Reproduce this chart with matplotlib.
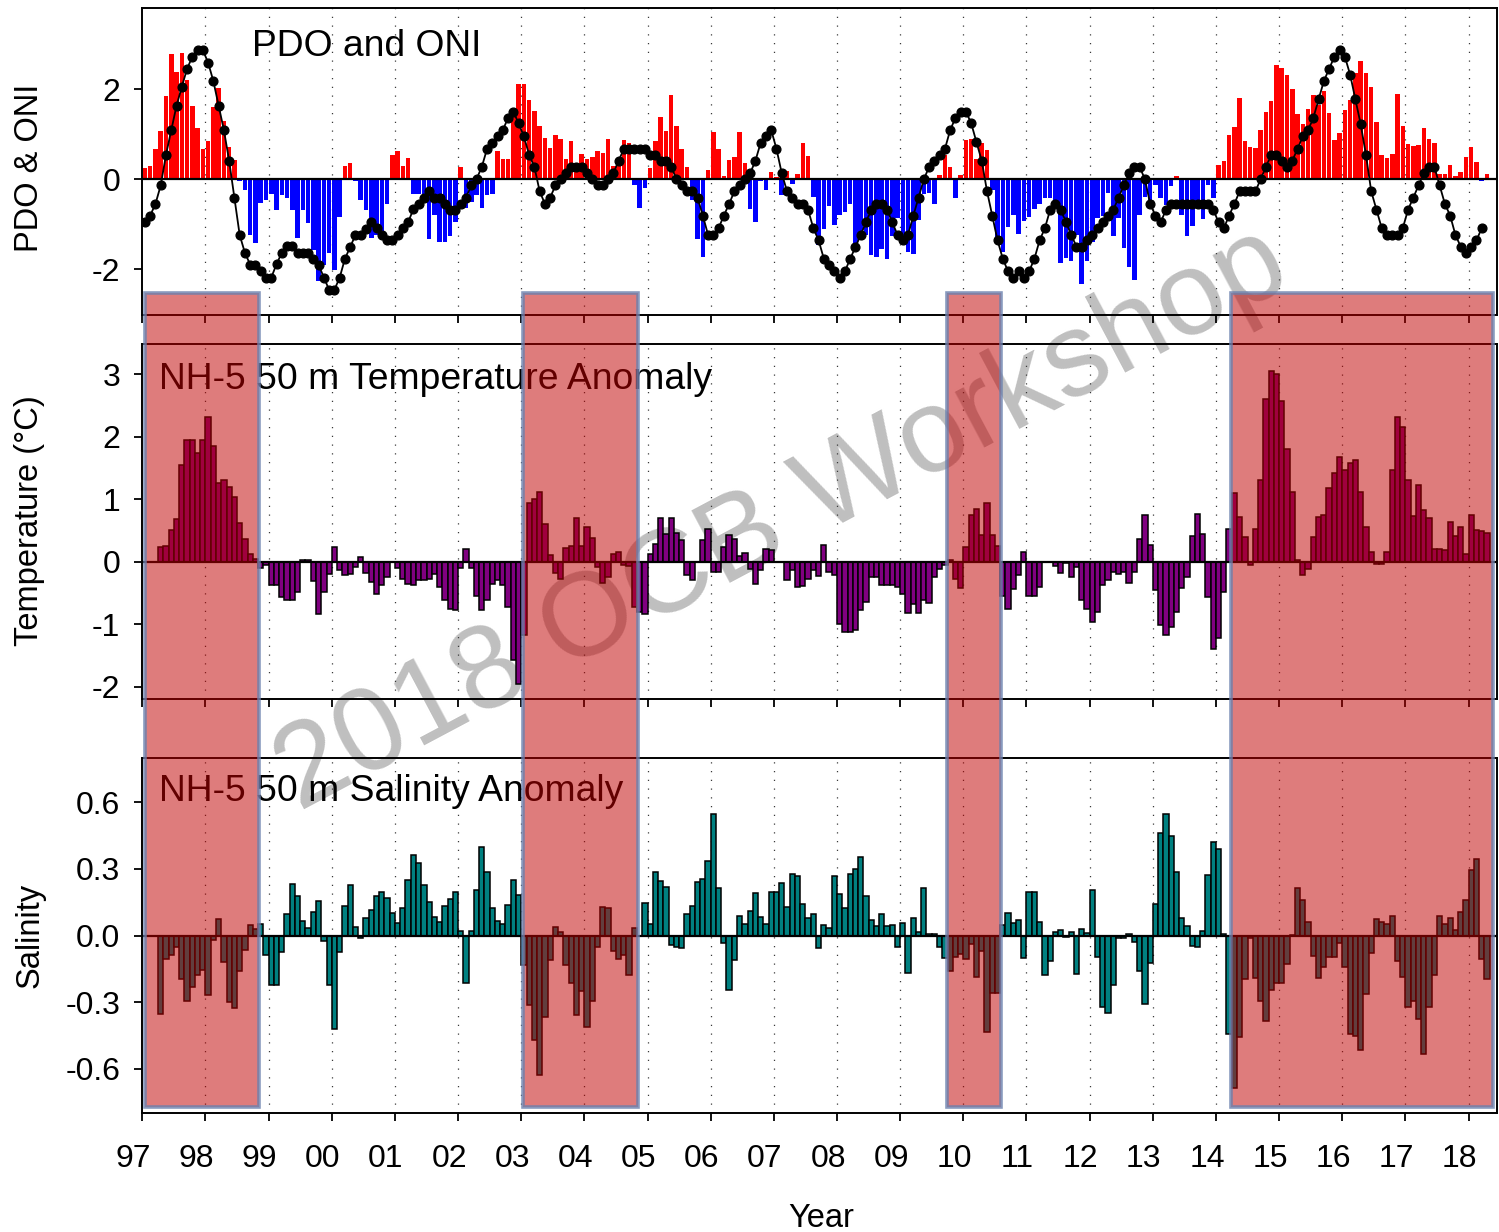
import numpy as np
import matplotlib
matplotlib.use("Agg")
import matplotlib.pyplot as plt
from matplotlib.patches import Rectangle
from matplotlib.transforms import blended_transform_factory, ScaledTranslation

plt.rcParams['font.family'] = ['Liberation Sans', 'DejaVu Sans']
plt.rcParams['axes.unicode_minus'] = False

# ---------------- data (monthly, month index 0 = Jan 1997) ----------------
oni_start = 0
oni = [-0.96, -0.81, -0.55, -0.14, 0.54, 1.09, 1.63, 2.05, 2.45, 2.72, 2.87, 2.87,
       2.59, 2.18, 1.63, 1.09, 0.41, -0.41, -1.24, -1.64, -1.90, -1.90, -2.05, -2.19,
       -2.19, -1.89, -1.64, -1.49, -1.49, -1.64, -1.64, -1.64, -1.77, -1.90, -2.19, -2.46,
       -2.46, -2.19, -1.77, -1.51, -1.24, -1.24, -1.10, -0.96, -1.09, -1.24, -1.36, -1.36,
       -1.24, -1.09, -0.96, -0.67, -0.55, -0.41, -0.27, -0.41, -0.41, -0.55, -0.68, -0.68,
       -0.55, -0.41, -0.14, 0.0, 0.27, 0.67, 0.81, 0.95, 1.09, 1.36, 1.50, 1.24,
       0.95, 0.54, 0.27, -0.27, -0.55, -0.41, -0.14, 0.0, 0.13, 0.27, 0.27, 0.27,
       0.13, 0.0, -0.14, -0.14, 0.0, 0.13, 0.41, 0.67, 0.67, 0.67, 0.67, 0.67,
       0.54, 0.54, 0.41, 0.41, 0.27, 0.0, -0.14, -0.27, -0.27, -0.41, -0.81, -1.24,
       -1.24, -1.09, -0.81, -0.55, -0.27, -0.14, 0.0, 0.13, 0.41, 0.81, 0.95, 1.09,
       0.67, 0.13, -0.27, -0.41, -0.55, -0.55, -0.68, -1.09, -1.36, -1.77, -1.90, -2.05,
       -2.19, -2.05, -1.77, -1.51, -1.24, -0.96, -0.68, -0.55, -0.55, -0.68, -0.96, -1.24,
       -1.36, -1.24, -0.81, -0.41, 0.0, 0.27, 0.41, 0.54, 0.67, 1.09, 1.36, 1.50,
       1.50, 1.24, 0.82, 0.41, -0.27, -0.81, -1.36, -1.77, -2.05, -2.19, -2.05, -2.19,
       -2.05, -1.77, -1.36, -1.09, -0.68, -0.55, -0.68, -0.96, -1.24, -1.50, -1.50, -1.36,
       -1.24, -1.09, -0.96, -0.81, -0.68, -0.41, -0.14, 0.13, 0.27, 0.27, 0.0, -0.55,
       -0.81, -0.96, -0.68, -0.55, -0.55, -0.55, -0.55, -0.55, -0.55, -0.55, -0.55, -0.68,
       -0.96, -1.09, -0.81, -0.55, -0.27, -0.27, -0.27, -0.27, 0.0, 0.27, 0.54, 0.54,
       0.41, 0.27, 0.41, 0.67, 0.95, 1.09, 1.36, 1.77, 2.18, 2.45, 2.72, 2.87,
       2.72, 2.32, 1.77, 1.22, 0.54, -0.27, -0.68, -1.09, -1.24, -1.24, -1.24, -1.09,
       -0.68, -0.41, -0.14, 0.13, 0.27, 0.27, -0.14, -0.55, -0.81, -1.24, -1.50, -1.64,
       -1.50, -1.36, -1.09]

pdo_start = 0
pdo = [0.24, 0.30, 0.67, 1.07, 1.85, 2.78, 2.37, 2.81, 2.21, 1.63, 1.14, 0.67,
       0.85, 1.61, 2.02, 1.29, 0.71, 0.43, -0.05, -0.24, -1.24, -1.42, -0.53, -0.46,
       -0.33, -0.68, -0.36, -0.42, -0.68, -1.31, -0.68, -0.98, -1.57, -2.26, -1.90, -1.65,
       -2.02, -0.85, 0.30, 0.36, -0.05, -0.46, -0.68, -1.31, -1.24, -1.15, -0.55, 0.54,
       0.62, 0.30, 0.46, -0.33, -0.33, -0.50, -1.34, -0.80, -1.40, -1.40, -1.27, -0.95,
       0.28, -0.65, -0.50, -0.35, -0.65, -0.35, -0.33, 0.62, 0.45, 0.44, 1.40, 2.11,
       2.11, 1.76, 1.52, 1.19, 0.91, 0.69, 0.97, 0.90, 0.45, 0.85, 0.36, 0.56,
       0.45, 0.50, 0.63, 0.59, 0.90, 0.30, 0.30, 0.87, 0.80, -0.12, -0.64, -0.19,
       0.24, 0.84, 1.38, 1.06, 1.87, 1.19, 0.67, 0.27, -0.46, -1.33, -1.73, 0.21,
       1.05, 0.67, 0.07, 0.42, 0.50, 1.05, 0.36, -0.67, -0.96, -0.05, -0.24, 0.16,
       0.04, -0.35, 0.19, -0.11, 0.11, 0.81, 0.51, -0.39, -1.46, -1.10, -0.60, -1.01,
       -0.79, -0.73, -0.56, -1.44, -1.36, -1.24, -1.68, -1.73, -1.56, -1.77, -1.27, -0.87,
       -1.41, -1.61, -1.67, -0.90, -0.33, -0.31, -0.55, 0.10, 0.54, 0.28, -0.42, 0.10,
       0.87, 0.90, 0.45, 0.80, 0.64, -0.24, -1.29, -1.62, -1.07, -0.79, -1.22, -0.94,
       -0.84, -0.66, -0.55, -0.42, -0.41, -0.56, -1.87, -1.76, -1.81, -1.24, -2.33, -1.81,
       -1.40, -0.87, -0.81, -0.30, -1.26, -0.87, -1.53, -1.96, -2.24, -0.79, -0.39, -0.52,
       -0.14, -0.42, -0.57, -0.16, 0.08, -0.79, -1.26, -1.05, -0.56, -0.88, -0.13, -0.42,
       0.32, 0.41, 0.99, 1.15, 1.81, 0.84, 0.71, 0.69, 1.10, 1.50, 1.74, 2.53,
       2.48, 2.32, 2.01, 1.45, 1.22, 1.56, 1.86, 1.64, 1.96, 1.48, 0.87, 1.02,
       1.54, 1.76, 2.36, 2.63, 2.36, 2.04, 1.26, 0.53, 0.47, 0.56, 1.89, 1.19,
       0.78, 0.73, 0.75, 1.13, 0.89, 0.80, 0.11, 0.11, 0.32, 0.06, 0.16, 0.50,
       0.71, 0.38, -0.05, 0.11]

temp_start = 3
temp = [0.24, 0.25, 0.50, 0.68, 1.55, 1.94, 1.95, 1.73, 1.94,
        2.32, 1.85, 1.25, 1.31, 1.19, 1.04, 0.62, 0.37, 0.12, 0.05, -0.10, -0.05,
        -0.37, -0.37, -0.56, -0.62, -0.62, -0.49, 0.02, 0.02, -0.31, -0.83, -0.48, -0.20,
        0.24, -0.13, -0.22, -0.20, -0.08, 0.07, -0.18, -0.33, -0.52, -0.38, -0.25, 0.00,
        -0.10, -0.28, -0.35, -0.37, -0.30, -0.30, -0.27, -0.20, -0.40, -0.62, -0.75, -0.77,
        -0.10, 0.21, -0.10, -0.55, -0.78, -0.62, -0.35, -0.30, -0.38, -0.73, -1.57, -1.95,
        -1.17, 0.94, 1.00, 1.12, 0.60, 0.10, -0.18, -0.27, 0.22, 0.25, 0.70, 0.25,
        0.55, 0.38, -0.08, -0.34, -0.25, 0.13, 0.16, -0.05, -0.07, -0.72, -0.80, -0.84,
        0.13, 0.28, 0.70, 0.44, 0.70, 0.46, 0.35, -0.21, -0.29, 0.00, 0.35, 0.53,
        -0.16, -0.16, 0.24, 0.43, 0.37, 0.09, 0.14, -0.11, -0.36, -0.13, 0.21, 0.18,
        0.00, 0.00, -0.30, -0.13, -0.40, -0.39, -0.27, -0.13, -0.23, 0.27, -0.16, -0.21,
        -0.99, -1.12, -1.12, -1.09, -0.77, -0.64, -0.24, -0.24, -0.37, -0.37, -0.37, -0.40,
        -0.51, -0.82, -0.67, -0.82, -0.61, -0.66, -0.24, -0.12, -0.05, 0.02, -0.28, -0.42,
        0.24, 0.74, 0.85, 0.42, 0.94, 0.43, 0.25, -0.55, -0.76, -0.43, -0.21, 0.15,
        -0.55, -0.55, -0.40, 0.00, 0.00, -0.07, -0.18, -0.02, -0.25, -0.08, -0.61, -0.75,
        -0.96, -0.80, -0.37, -0.29, -0.16, -0.20, -0.17, -0.34, -0.17, 0.37, 0.75, 0.27,
        -0.45, -1.01, -1.17, -1.05, -0.80, -0.42, -0.24, 0.41, 0.77, 0.44, -0.56, -1.40,
        -1.22, -0.48, 0.52, 1.10, 0.72, 0.39, -0.06, 0.53, 1.31, 2.60, 3.05, 3.00,
        2.57, 1.80, 1.12, 0.03, -0.21, -0.12, 0.40, 0.72, 0.74, 1.18, 1.42, 1.67,
        1.46, 1.57, 1.63, 1.12, 0.55, 0.15, -0.03, -0.03, 0.15, 1.47, 2.32, 2.16,
        1.31, 0.73, 1.23, 0.83, 0.70, 0.20, 0.20, 0.18, 0.63, 0.41, 0.55, 0.12,
        0.74, 0.51, 0.49, 0.46]

sal_start = 3
sal = [-0.354, -0.105, -0.087, -0.054, -0.195, -0.297, -0.23, -0.177, -0.155,
       -0.267, -0.02, 0.074, -0.12, -0.30, -0.327, -0.162, -0.065, 0.048, 0.03, 0.05, -0.087,
       -0.222, -0.222, -0.075, 0.096, 0.233, 0.18, 0.066, 0.033, 0.104, 0.156, -0.027, -0.225,
       -0.42, -0.075, 0.134, 0.228, 0.04, -0.012, 0.081, 0.116, 0.176, 0.194, 0.168, 0.10,
       0.056, 0.123, 0.25, 0.363, 0.329, 0.228, 0.149, 0.083, 0.059, 0.135, 0.165, 0.198,
       0.021, -0.215, 0.021, 0.205, 0.40, 0.288, 0.126, 0.066, 0.053, 0.138, 0.25, 0.183,
       -0.132, -0.312, -0.47, -0.627, -0.369, -0.11, 0.037, 0.018, -0.132, -0.215, -0.36, -0.252,
       -0.414, -0.294, -0.053, 0.128, 0.123, -0.072, -0.107, -0.087, -0.18, 0.036, 0.0, 0.146,
       0.05, 0.285, 0.247, 0.217, -0.045, -0.053, -0.057, 0.096, 0.135, 0.243, 0.255, 0.336,
       0.548, 0.216, -0.032, -0.245, -0.11, 0.09, 0.05, 0.111, 0.19, 0.085, 0.05, 0.194,
       0.198, 0.236, 0.13, 0.278, 0.266, 0.143, 0.081, 0.098, -0.057, 0.048, 0.036, 0.266,
       0.188, 0.123, 0.276, 0.30, 0.353, 0.176, 0.068, 0.044, 0.096, 0.041, 0.048, -0.054,
       0.056, -0.17, 0.078, 0.018, 0.213, 0.006, 0.006, -0.054, -0.102, -0.162, -0.099, -0.084,
       -0.105, -0.039, -0.185, -0.072, -0.437, -0.26, -0.26, 0.048, 0.10, 0.055, 0.07, -0.102,
       0.198, 0.198, 0.059, -0.177, -0.117, 0.015, 0.025, -0.005, 0.018, -0.174, 0.029, 0.01,
       0.205, -0.095, -0.32, -0.35, -0.222, -0.012, -0.01, 0.006, -0.03, -0.159, -0.309, -0.125,
       0.141, 0.46, 0.546, 0.449, 0.285, 0.078, 0.044, -0.047, -0.05, 0.021, 0.273, 0.42,
       0.389, 0.006, -0.444, -0.687, -0.459, -0.195, -0.01, -0.192, -0.297, -0.387, -0.245, -0.212,
       -0.212, -0.129, 0.003, 0.213, 0.158, 0.059, -0.092, -0.192, -0.144, -0.095, -0.095, -0.035,
       -0.14, -0.444, -0.455, -0.515, -0.264, -0.08, 0.074, 0.063, 0.053, 0.089, -0.114, -0.185,
       -0.323, -0.293, -0.375, -0.534, -0.323, -0.18, 0.089, 0.051, 0.081, 0.026, 0.105, 0.158,
       0.296, 0.345, -0.105, -0.197]

# warm-event shading (decimal years)
shade_start = [1997.04, 2003.03, 2009.74, 2014.24]
shade_end = [1998.84, 2004.85, 2010.59, 2018.39]

years = list(range(1997, 2019))
year_labels = ["%02d" % (y % 100) for y in years]

top_ticks = [-2, 0, 2]
top_ticklabels = ["-2", "0", "2"]
mid_ticks = [-2, -1, 0, 1, 2, 3]
mid_ticklabels = ["-2", "-1", "0", "1", "2", "3"]
bot_ticks = [-0.6, -0.3, 0.0, 0.3, 0.6]
bot_ticklabels = ["-0.6", "-0.3", "0.0", "0.3", "0.6"]


def month_x(start, n):
    return 1997 + (np.arange(start, start + n) + 0.5) / 12.0


# ---------------- figure ----------------
W, H = 1499, 1232
fig = plt.figure(figsize=(W / 100, H / 100), dpi=100)


def fx(x):
    return x / W


def fy(y):
    return 1 - y / H


L, R = 142.3, 1497.0
ax1 = fig.add_axes([fx(L), fy(315), (R - L) / W, (315 - 7.7) / H])
ax2 = fig.add_axes([fx(L), fy(699.3), (R - L) / W, (699.3 - 344) / H])
ax3 = fig.add_axes([fx(L), fy(1113), (R - L) / W, (1113 - 758) / H])

XMIN, XMAX = 1997.0, 2018.45
FS = 23
LFS = 23.5
TFS = 26.8

for ax in (ax1, ax2, ax3):
    ax.patch.set_visible(False)
    ax.set_xlim(XMIN, XMAX)
    for yr in years[1:]:
        ax.axvline(yr, color='#3a3a3a', lw=0.9, ls=(0, (1, 6)), zorder=0.5)
    ax.axhline(0, color='black', lw=1.6, zorder=4)
    for s in ax.spines.values():
        s.set_linewidth(1.4)
    ax.set_xticks(years)
    ax.tick_params(axis='both', direction='out', length=6, width=1.3,
                   labelsize=FS, top=False, right=False)
    ax.tick_params(axis='y', pad=10)
    ax.tick_params(axis='x', pad=16)

# top panel: PDO bars + ONI line
pdo_arr = np.array(pdo)
xp = month_x(pdo_start, len(pdo))
ax1.bar(xp, pdo_arr, width=0.86 / 12, color=np.where(pdo_arr >= 0, '#ff0000', '#0000ff'),
        linewidth=0, zorder=2)
xo = month_x(oni_start, len(oni))
ax1.plot(xo, oni, '-', color='black', lw=1.3, marker='o', ms=6.3, zorder=5)
ax1.set_ylim(-3.02, 3.81)
ax1.set_yticks(top_ticks)
ax1.set_yticklabels(top_ticklabels)
ax1.set_xticklabels([])

# middle: temperature
xt = month_x(temp_start, len(temp))
ax2.bar(xt, temp, width=1 / 12, facecolor='#800080', edgecolor='black', linewidth=1.1, zorder=2)
ax2.set_ylim(-2.2, 3.48)
ax2.set_yticks(mid_ticks)
ax2.set_yticklabels(mid_ticklabels)
ax2.set_xticklabels([])

# bottom: salinity
xs = month_x(sal_start, len(sal))
ax3.bar(xs, sal, width=1 / 12, facecolor='#008080', edgecolor='black', linewidth=1.1, zorder=2)
ax3.set_ylim(-0.8, 0.8)
ax3.set_yticks(bot_ticks)
ax3.set_yticklabels(bot_ticklabels)
ax3.set_xticklabels(year_labels)
off = ScaledTranslation(-9 / 100, 0, fig.dpi_scale_trans)
for lbl in ax3.get_xticklabels():
    lbl.set_transform(lbl.get_transform() + off)

# panel titles and axis labels
fig.text(fx(252), fy(56), "PDO and ONI", fontsize=TFS, ha='left', va='baseline', zorder=5)
fig.text(fx(159), fy(389), "NH-5 50 m Temperature Anomaly", fontsize=TFS, ha='left',
         va='baseline', zorder=5)
fig.text(fx(159), fy(801), "NH-5 50 m Salinity Anomaly", fontsize=TFS, ha='left',
         va='baseline', zorder=5)
fig.text(fx(30), fy(168), "PDO & ONI", fontsize=LFS, rotation=90, ha='center', va='center')
fig.text(fx(30), fy(521), "Temperature (°C)", fontsize=LFS, rotation=90, ha='center', va='center')
fig.text(fx(30), fy(935), "Salinity", fontsize=LFS, rotation=90, ha='center', va='center')
fig.text(fx(821), fy(1227), "Year", fontsize=LFS, ha='center', va='baseline')

# watermark (behind the transparent panels)
fig.text(fx(782), fy(520), "2018 OCB Workshop", fontsize=86, rotation=28,
         rotation_mode='anchor', ha='center', va='center', color=(0.5, 0.5, 0.5),
         alpha=0.5, zorder=-1)

# shading boxes across the panels
trans = blended_transform_factory(ax3.transData, fig.transFigure)
y0, y1 = fy(1107), fy(292.5)
for a, b in zip(shade_start, shade_end):
    r = Rectangle((a, y0), b - a, y1 - y0, transform=trans,
                  facecolor=(0.753, 0.0, 0.0, 0.515),
                  edgecolor=(0.42, 0.50, 0.68, 0.8), linewidth=2.6, zorder=10)
    fig.add_artist(r)

fig.savefig("out.png", dpi=100)
